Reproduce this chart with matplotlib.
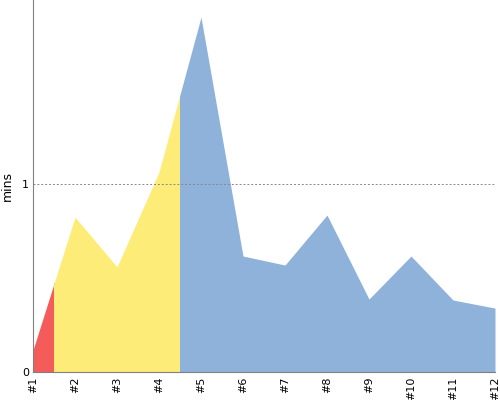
import numpy as np
import matplotlib.pyplot as plt
from matplotlib.patches import Rectangle

labels = ['#1', '#2', '#3', '#4', '#5', '#6', '#7', '#8', '#9', '#10', '#11', '#12']
mins = [0.117, 0.824, 0.559, 1.064, 1.888, 0.617, 0.569, 0.835, 0.388, 0.617, 0.383, 0.340]

# colour zones along the x axis (category index where each one stops)
zone_ends = [0.5, 3.5, 11]
zone_colors = ['#f45b5b', '#fdec78', '#8fb2da']

x = np.arange(len(labels))

fig = plt.figure(figsize=(5, 4), dpi=100)
ax = fig.add_axes([0.066, 0.07, 0.924, 0.93])

start = 0
for end, col in zip(zone_ends, zone_colors):
    poly = ax.fill_between(x, 0, mins, color=col, linewidth=0)
    clip = Rectangle((start, 0), end - start, 10, transform=ax.transData)
    poly.set_clip_path(clip)
    start = end

ax.axhline(1, color='#888888', linestyle=(0, (2, 2)), linewidth=0.7)

ax.set_xlim(0, 11)
ax.set_ylim(0, 1.979)
ax.set_xticks(x)
ax.set_xticklabels(labels, rotation=90, fontsize=8)
ax.set_yticks([0, 1])
ax.set_yticklabels(['0', '1'], fontsize=8)
ax.tick_params(length=0, pad=3)
ax.set_ylabel('mins', fontsize=9, labelpad=6)

for s in ['top', 'right']:
    ax.spines[s].set_visible(False)
for s in ['left', 'bottom']:
    ax.spines[s].set_color('#808080')

fig.savefig('out.png')
